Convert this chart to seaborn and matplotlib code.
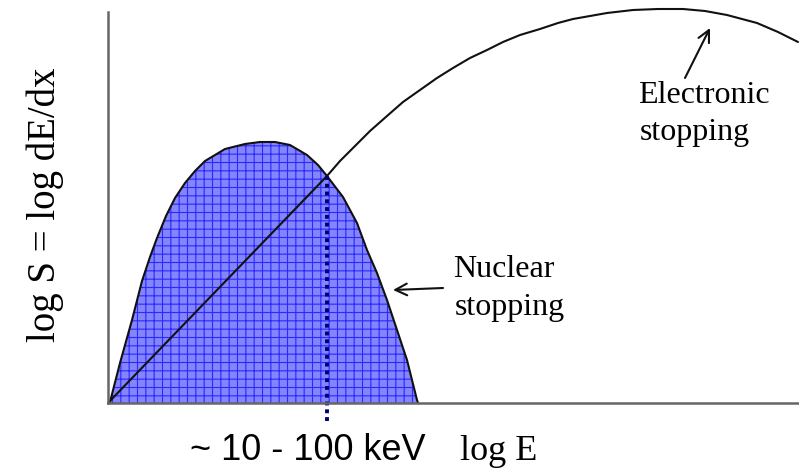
import matplotlib
matplotlib.use("Agg")
import matplotlib.pyplot as plt
import seaborn as sns
import pandas as pd

# Schematic stopping-power curves (arbitrary log units)
nuclear_logE = [0, 2, 12, 24, 34, 42, 49, 58, 67, 77, 87, 97, 117, 137, 152,
                167, 182, 199, 210, 219, 235, 249, 259, 269, 279, 289, 299,
                309, 310]
nuclear_logS = [0, 1, 40, 83, 122, 146, 165, 187, 205, 220, 232, 242, 254,
                259, 261, 261, 258, 248, 238, 227, 206, 180, 153, 130, 103,
                73, 43, 3, 0]

electronic_logE = [0, 219, 232, 245, 262, 279, 295, 312, 329, 345, 362, 379,
                   395, 412, 432, 450, 465, 482, 499, 525, 550, 575, 597, 619,
                   634, 649, 670, 690]
electronic_logS = [0, 227, 242, 255, 272, 287, 301, 313, 325, 335, 345, 353,
                   361, 368, 374, 380, 384, 387, 390, 393, 394, 394, 392, 388,
                   384, 380, 371, 361]

crossover_logE = 219
crossover_logS = 227

nuclear = pd.DataFrame({"logE": nuclear_logE, "logS": nuclear_logS})
electronic = pd.DataFrame({"logE": electronic_logE, "logS": electronic_logS})

sns.set_theme(style="white")
plt.rcParams["hatch.linewidth"] = 0.8

W, H = 799, 469
fig = plt.figure(figsize=(W / 100, H / 100), dpi=100)
ax = fig.add_axes([108 / W, 66 / H, 691 / W, 403 / H])
ax.set_xlim(0, 691)
ax.set_ylim(0, 403)

# shaded nuclear-stopping region with a fine grid texture
ax.fill_between(nuclear["logE"], nuclear["logS"], 0,
                facecolor="#8484fc", edgecolor="#2a2aff", hatch="++",
                linewidth=0, zorder=1)

sns.lineplot(data=nuclear, x="logE", y="logS", sort=False, estimator=None,
             color="#111111", linewidth=1.5, ax=ax, zorder=3)
sns.lineplot(data=electronic, x="logE", y="logS", sort=False, estimator=None,
             color="#111111", linewidth=1.5, ax=ax, zorder=3, clip_on=False)

# dotted marker at the crossover energy
ax.plot([crossover_logE, crossover_logE], [crossover_logS, -20],
        color="#00006e", linewidth=2.8, linestyle=(0, (1, 1)),
        clip_on=False, zorder=4)

# axes: only left and bottom lines, no ticks
for side in ("top", "right"):
    ax.spines[side].set_visible(False)
for side in ("left", "bottom"):
    ax.spines[side].set_color("#666666")
    ax.spines[side].set_linewidth(1.8)
    ax.spines[side].set_zorder(5)
ax.spines["left"].set_bounds(0, 391)
ax.set_xticks([])
ax.set_yticks([])
ax.set_xlabel("")
ax.set_ylabel("")

serif = ["Liberation Serif", "DejaVu Serif"]
sans = ["Liberation Sans", "DejaVu Sans"]

ax.text(-63, 198, "log S = log dE/dx", rotation=90, ha="center", va="center",
        family=serif, fontsize=28, color="black")
ax.text(82, -57, "~ 10 - 100 keV", ha="left", va="baseline",
        family=sans, fontsize=26, color="black")
ax.text(352, -57, "log E", ha="left", va="baseline",
        family=serif, fontsize=26, color="black")

ax.text(530, 300, "Electronic", ha="left", va="baseline",
        family=serif, fontsize=23, color="black")
ax.text(532, 263, "stopping", ha="left", va="baseline",
        family=serif, fontsize=23, color="black")
ax.text(345, 126, "Nuclear", ha="left", va="baseline",
        family=serif, fontsize=23, color="black")
ax.text(347, 88, "stopping", ha="left", va="baseline",
        family=serif, fontsize=23, color="black")

arrow = dict(arrowstyle="->,head_length=0.7,head_width=0.35",
             color="#111111", lw=1.5, shrinkA=0, shrinkB=0)
ax.annotate("", xy=(602, 375), xytext=(577, 325), arrowprops=arrow,
            annotation_clip=False)
ax.annotate("", xy=(285, 113), xytext=(335, 115), arrowprops=arrow,
            annotation_clip=False)

fig.savefig("out.png", dpi=100)
